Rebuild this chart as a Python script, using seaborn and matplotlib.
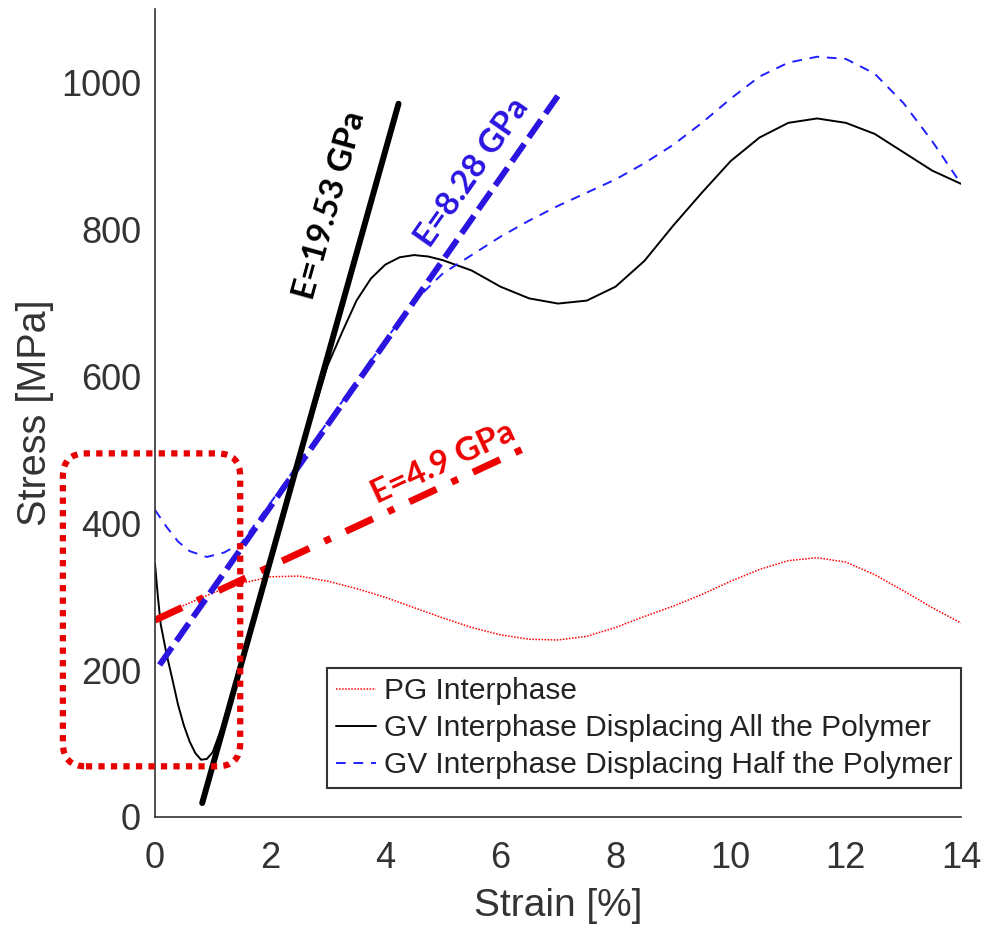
import matplotlib
matplotlib.use('Agg')
import matplotlib.pyplot as plt
from matplotlib.patches import FancyBboxPatch
from matplotlib.lines import Line2D
import seaborn as sns

# PG interphase (red dotted)
pg_strain = [0, 0.5, 1, 1.5, 2, 2.5, 3, 3.5, 4, 4.5, 5, 5.5, 6, 6.5, 7, 7.5, 8,
             8.5, 9, 9.5, 10, 10.5, 11, 11.5, 12, 12.5, 13, 13.5, 14]
pg_stress = [270, 288, 305, 318, 327, 328, 321, 311, 299, 285, 271, 258, 248, 242,
             241, 246, 258, 273, 287, 303, 321, 337, 349, 353, 347, 330, 308, 285, 264]

# GV interphase displacing all the polymer (black solid)
gv_all_strain = [0, 0.05, 0.1, 0.2, 0.3, 0.4, 0.5, 0.6, 0.7, 0.8, 0.9, 1.0, 1.2, 1.5,
                 2.0, 2.5, 3.0, 3.25, 3.5, 3.75, 4.0, 4.25, 4.5, 4.75, 5.0, 5.5, 6.0,
                 6.5, 7.0, 7.5, 8.0, 8.5, 9.0, 9.5, 10.0, 10.5, 11.0, 11.5, 12.0,
                 12.5, 13.0, 13.5, 14.0]
gv_all_stress = [345, 300, 262, 222, 188, 153, 125, 103, 87, 78, 79, 88, 130, 205,
                 345, 485, 615, 660, 703, 733, 752, 762, 765, 763, 758, 744, 722,
                 706, 699, 703, 722, 757, 805, 850, 893, 925, 945, 951, 945,
                 930, 905, 880, 862]

# GV interphase displacing half the polymer (blue dashed)
gv_half_strain = [0, 0.2, 0.4, 0.6, 0.9, 1.2, 1.5, 2.0, 2.5, 3.0, 3.5, 4.0, 4.5, 5.0,
                  5.5, 6.0, 6.5, 7.0, 7.5, 8.0, 8.5, 9.0, 9.5, 10.0, 10.5, 11.0,
                  11.5, 12.0, 12.5, 13.0, 13.5, 14.0]
gv_half_stress = [418, 395, 375, 362, 354, 360, 373, 427, 482, 538, 593, 649, 702, 740,
                  765, 790, 812, 832, 850, 868, 890, 915, 945, 978, 1008, 1027,
                  1035, 1032, 1012, 972, 920, 862]

# fitted modulus lines (end points)
fit_all_strain = [0.82, 4.23]
fit_all_stress = [19, 971]
fit_half_strain = [0.08, 7.0]
fit_half_stress = [207, 982]
fit_pg_strain = [0, 6.5]
fit_pg_stress = [268, 505]

legend_labels = ["PG Interphase",
                 "GV Interphase Displacing All the Polymer",
                 "GV Interphase Displacing Half the Polymer"]

sns.set_style("white")
plt.rcParams['font.family'] = ['Liberation Sans', 'DejaVu Sans']

RED = '#ff0000'
BLUE = '#1f1fff'
BLUE_THICK = '#2a14e0'
GREY = '#333333'

fig = plt.figure(figsize=(9.86, 9.34), dpi=100)
ax = fig.add_axes([155 / 986, 117 / 934, 806 / 986, 808 / 934])

# thin curves
sns.lineplot(x=pg_strain, y=pg_stress, ax=ax, color=RED, linewidth=1.1,
             linestyle=(0, (1, 1)), sort=False, estimator=None)
sns.lineplot(x=gv_all_strain, y=gv_all_stress, ax=ax, color='black', linewidth=1.4,
             sort=False, estimator=None)
sns.lineplot(x=gv_half_strain, y=gv_half_stress, ax=ax, color=BLUE, linewidth=1.4,
             linestyle=(0, (5, 4)), sort=False, estimator=None)

# thick fit lines
sns.lineplot(x=fit_pg_strain, y=fit_pg_stress, ax=ax, color='#ee0000', linewidth=5,
             linestyle=(0, (4.3, 2.4, 1, 2.4)), sort=False, estimator=None)
sns.lineplot(x=fit_half_strain, y=fit_half_stress, ax=ax, color=BLUE_THICK, linewidth=4.3,
             linestyle=(0, (3.6, 1.3)), sort=False, estimator=None)
sns.lineplot(x=fit_all_strain, y=fit_all_stress, ax=ax, color='black', linewidth=4.3,
             sort=False, estimator=None)

ax.set_xlim(0, 14)
ax.set_ylim(0, 1100)
ax.set_xticks(range(0, 15, 2))
ax.set_yticks(range(0, 1001, 200))

for s in ['top', 'right']:
    ax.spines[s].set_visible(False)
for s in ['left', 'bottom']:
    ax.spines[s].set_color(GREY)
    ax.spines[s].set_linewidth(1.2)

ax.tick_params(axis='both', direction='in', length=6, width=1.1, color=GREY,
               labelcolor=GREY, labelsize=26)
ax.tick_params(axis='y', pad=10)
ax.tick_params(axis='x', pad=17)
ax.set_xlabel("Strain [%]", fontsize=28, color=GREY, labelpad=9)
ax.set_ylabel("Stress [MPa]", fontsize=28.5, color=GREY, labelpad=5)

# modulus annotations
ax.text(3.03, 833, "E=19.53 GPa", rotation=74.5, rotation_mode='anchor',
        ha='center', va='center', fontsize=24, fontweight='bold', color='black',
        family=['Lato', 'DejaVu Sans'])
ax.text(5.5, 878, "E=8.28 GPa", rotation=55, rotation_mode='anchor',
        ha='center', va='center', fontsize=24, fontweight='bold', color=BLUE_THICK,
        family=['Lato', 'DejaVu Sans'])
ax.text(5.0, 482, "E=4.9 GPa", rotation=25, rotation_mode='anchor',
        ha='center', va='center', fontsize=24, fontweight='bold', color='#ee0000',
        family=['Lato', 'DejaVu Sans'])

# dotted rounded box around the initial region
fig.canvas.draw()
p0 = ax.transData.transform((0, 0))
p1 = ax.transData.transform((1, 1))
aspect = (p1[0] - p0[0]) / (p1[1] - p0[1])
box = FancyBboxPatch((-1.6, 69), 1.6 + 1.48, 495 - 69,
                     boxstyle="round,pad=0,rounding_size=0.4",
                     mutation_aspect=aspect, transform=ax.transData,
                     fill=False, edgecolor='#e60000', linewidth=4.5,
                     linestyle=(0, (1, 1)), clip_on=False, zorder=5)
ax.add_patch(box)

handles = [Line2D([], [], color=RED, linewidth=1.1, linestyle=(0, (1, 1))),
           Line2D([], [], color='black', linewidth=1.4),
           Line2D([], [], color=BLUE, linewidth=1.4, linestyle=(0, (5, 4)))]
leg = ax.legend(handles, legend_labels, loc='lower right', bbox_to_anchor=(1.0, 0.036),
                borderaxespad=0, fontsize=21.5, frameon=True, fancybox=False,
                handlelength=1.35, handletextpad=0.25, labelspacing=0.3,
                borderpad=0.3)
leg.get_frame().set_edgecolor(GREY)
leg.get_frame().set_linewidth(1.5)
leg.get_frame().set_alpha(1)
for t in leg.get_texts():
    t.set_color('#222222')

fig.savefig("out.png", dpi=100, facecolor='white')
